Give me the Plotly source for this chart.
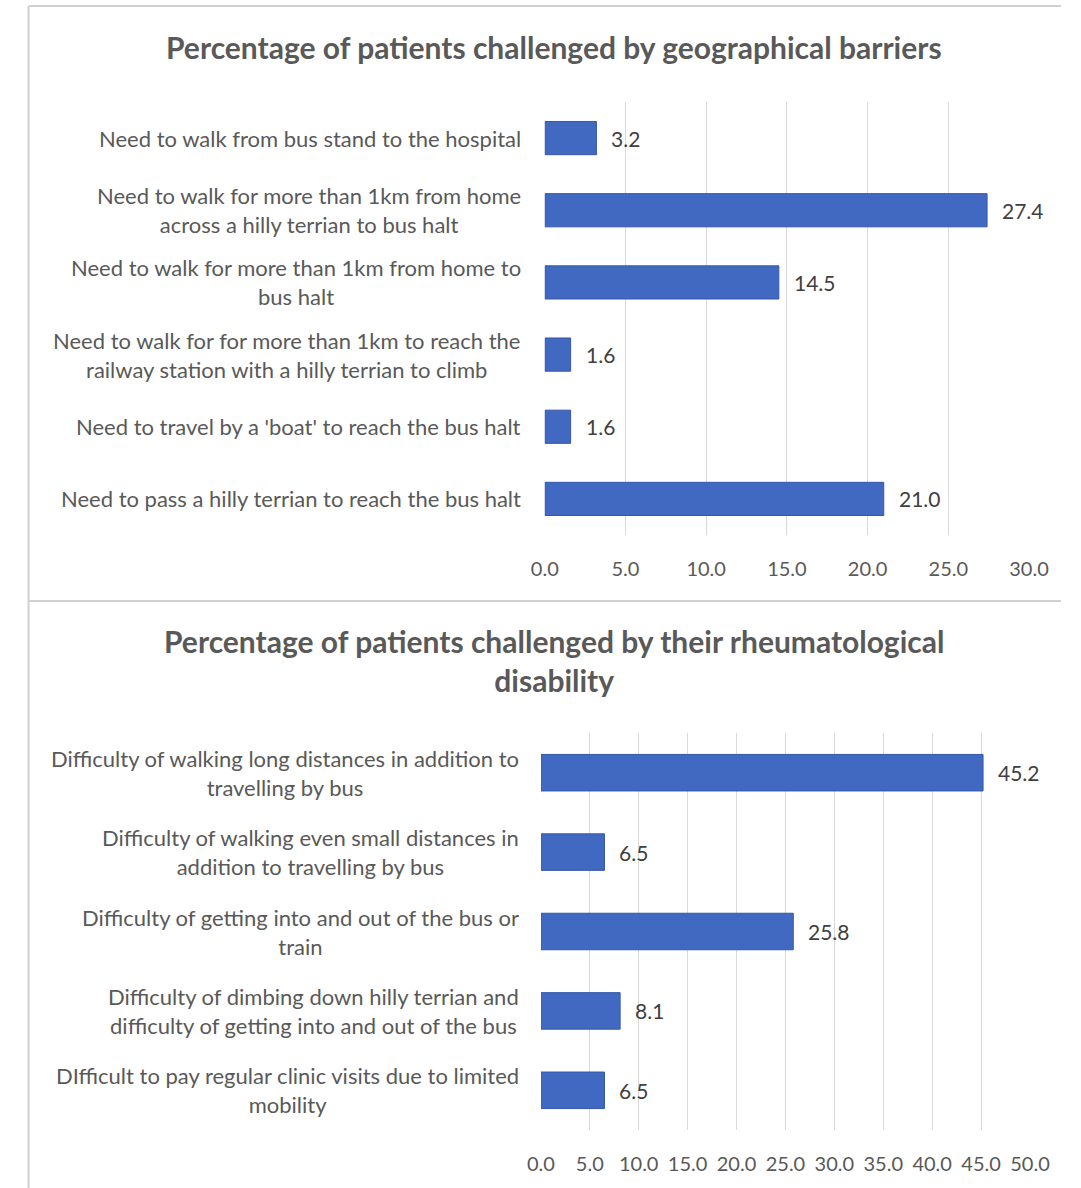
import plotly.graph_objects as go

# ---- data ----
geo_categories = [
    "Need to walk from bus stand to the hospital",
    "Need to walk for more than 1km from home<br>across a hilly terrian to bus halt",
    "Need to walk for more than 1km from home to<br>bus halt",
    "Need to walk for for more than 1km to reach the<br>railway station with a hilly terrian to climb",
    "Need to travel by a 'boat' to reach the bus halt",
    "Need to pass a hilly terrian to reach the bus halt",
]
geo_values = [3.2, 27.4, 14.5, 1.6, 1.6, 21.0]

rheum_categories = [
    "Difficulty of walking long distances in addition to<br>travelling by bus",
    "Difficulty of walking even small distances in<br>addition to travelling by bus",
    "Difficulty of getting into and out of the bus or<br>train",
    "Difficulty of dimbing down hilly terrian and<br>difficulty of getting into and out of the bus",
    "DIfficult to pay regular clinic visits due to limited<br>mobility",
]
rheum_values = [45.2, 6.5, 25.8, 8.1, 6.5]

geo_title = "Percentage of patients challenged by geographical barriers"
rheum_title = "Percentage of patients challenged by their rheumatological<br>disability"

W, H = 1081, 1188
FONT = "Lato, 'Open Sans', sans-serif"
TXT = "#595959"
BAR = "#4169c2"
GRID = "#d9d9d9"
LBL = 22

def px(x):
    return x / W

def py(y):
    return 1 - y / H

fig = go.Figure()

fig.add_trace(go.Bar(
    x=geo_values, y=geo_categories, orientation="h", width=0.46,
    marker=dict(color=BAR, line=dict(color="#3558a8", width=1)),
    xaxis="x", yaxis="y", showlegend=False,
))
fig.add_trace(go.Bar(
    x=rheum_values, y=rheum_categories, orientation="h", width=0.46,
    marker=dict(color=BAR, line=dict(color="#3558a8", width=1)),
    xaxis="x2", yaxis="y2", showlegend=False,
))

axis_common = dict(
    showgrid=True, gridcolor=GRID, gridwidth=1, zeroline=False,
    showline=False, ticks="", tickformat=".1f", dtick=5,
    tickfont=dict(family=FONT, size=20, color=TXT),
    ticklabelstandoff=20, fixedrange=True,
)

fig.update_layout(
    width=W, height=H, margin=dict(l=0, r=0, t=0, b=0),
    paper_bgcolor="white", plot_bgcolor="white",
    xaxis=dict(domain=[px(548), px(1048)], range=[0, 30], anchor="y", **axis_common),
    yaxis=dict(domain=[py(535), py(102)], anchor="x", autorange="reversed",
               showticklabels=False, showgrid=False, zeroline=False),
    xaxis2=dict(domain=[px(544), px(1049)], range=[0, 50], anchor="y2", **axis_common),
    yaxis2=dict(domain=[py(1130), py(733)], anchor="x2", autorange="reversed",
                showticklabels=False, showgrid=False, zeroline=False),
)

annotations = []
for cat in geo_categories:
    annotations.append(dict(
        x=px(526), xref="paper", y=cat, yref="y", text=cat, showarrow=False,
        xanchor="right", align="center",
        font=dict(family=FONT, size=LBL, color=TXT),
    ))
for cat, v in zip(geo_categories, geo_values):
    annotations.append(dict(
        x=v, xref="x", y=cat, yref="y", text=f"{v:.1f}", showarrow=False,
        xanchor="left", xshift=13,
        font=dict(family=FONT, size=21, color="#404040"),
    ))
for cat in rheum_categories:
    annotations.append(dict(
        x=px(523), xref="paper", y=cat, yref="y2", text=cat, showarrow=False,
        xanchor="right", align="center",
        font=dict(family=FONT, size=LBL, color=TXT),
    ))
for cat, v in zip(rheum_categories, rheum_values):
    annotations.append(dict(
        x=v, xref="x2", y=cat, yref="y2", text=f"{v:.1f}", showarrow=False,
        xanchor="left", xshift=13,
        font=dict(family=FONT, size=21, color="#404040"),
    ))
annotations.append(dict(
    x=px(558), y=py(47), xref="paper", yref="paper", text="<b>" + geo_title + "</b>",
    showarrow=False, xanchor="center", yanchor="middle",
    font=dict(family=FONT, size=30, color=TXT),
))
annotations.append(dict(
    x=px(558), y=py(660), xref="paper", yref="paper", text="<b>" + rheum_title + "</b>",
    showarrow=False, xanchor="center", yanchor="middle", align="center",
    font=dict(family=FONT, size=30, color=TXT),
))
fig.update_layout(annotations=annotations)

shapes = [
    dict(type="line", xref="paper", yref="paper", x0=px(15), x1=1, y0=py(6), y1=py(6),
         line=dict(color="#d0d0d0", width=2)),
    dict(type="line", xref="paper", yref="paper", x0=px(15), x1=1, y0=py(601), y1=py(601),
         line=dict(color="#d0d0d0", width=2)),
    dict(type="line", xref="paper", yref="paper", x0=px(15), x1=px(15), y0=py(6), y1=0,
         line=dict(color="#d0d0d0", width=2)),
]
fig.update_layout(shapes=shapes)

fig.write_html("out.html")
